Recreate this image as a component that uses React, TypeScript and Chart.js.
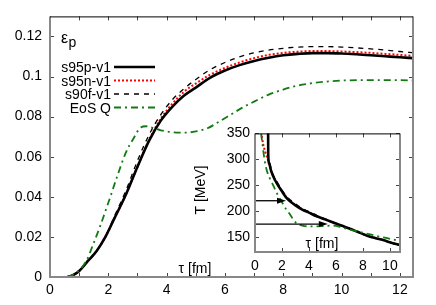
import React, { useEffect, useRef } from "react";
import { Chart, registerables } from "chart.js";
Chart.register(...registerables);

const FONT = '"Liberation Sans", Arial, sans-serif';

// ---------- main panel data ----------
const mainXLabels = [0, 2, 4, 6, 8, 10, 12];
const mainXTickMarks = [0, 1, 2, 3, 4, 5, 6, 7, 8, 9, 10, 11, 12];
const mainYLabels = [0, 0.02, 0.04, 0.06, 0.08, 0.1, 0.12];

const s95pTau = [0.6, 0.8, 1.0, 1.3, 1.6, 1.9, 2.2, 2.6, 3.0, 3.4, 3.8, 4.2, 4.6, 5.0, 5.5, 6.0, 6.5, 7.0, 7.5, 8.0, 8.5, 9.0, 9.5, 10.0, 10.5, 11.0, 11.5, 12.0, 12.45];
const s95pEps = [0, 0.001, 0.003, 0.008, 0.013, 0.020, 0.029, 0.041, 0.055, 0.068, 0.078, 0.085, 0.0905, 0.0945, 0.0995, 0.103, 0.1057, 0.1078, 0.1094, 0.1106, 0.1113, 0.1117, 0.1117, 0.1115, 0.1111, 0.1106, 0.1101, 0.1096, 0.1092];

const s95nTau = [0.6, 0.8, 1.0, 1.3, 1.6, 1.9, 2.2, 2.6, 3.0, 3.4, 3.8, 4.2, 4.6, 5.0, 5.5, 6.0, 6.5, 7.0, 7.5, 8.0, 8.5, 9.0, 9.5, 10.0, 10.5, 11.0, 11.5, 12.0, 12.45];
const s95nEps = [0, 0.001, 0.003, 0.008, 0.013, 0.020, 0.029, 0.041, 0.055, 0.0685, 0.079, 0.0865, 0.0925, 0.0965, 0.101, 0.1043, 0.107, 0.1092, 0.1108, 0.1118, 0.1124, 0.1127, 0.1127, 0.1125, 0.1122, 0.1118, 0.1113, 0.1108, 0.1103];

const s90fTau = [0.6, 0.8, 1.0, 1.3, 1.6, 1.9, 2.2, 2.6, 3.0, 3.4, 3.8, 4.2, 4.6, 5.0, 5.5, 6.0, 6.5, 7.0, 7.5, 8.0, 8.5, 9.0, 9.5, 10.0, 10.5, 11.0, 11.5, 12.0, 12.45];
const s90fEps = [0, 0.001, 0.003, 0.008, 0.013, 0.020, 0.030, 0.043, 0.058, 0.071, 0.081, 0.0885, 0.094, 0.0985, 0.1035, 0.107, 0.1098, 0.1118, 0.1132, 0.1141, 0.1147, 0.1149, 0.1149, 0.1147, 0.1143, 0.1138, 0.1132, 0.1125, 0.1119];

const eosQTau = [0.6, 0.9, 1.26, 1.5, 1.71, 2.0, 2.3, 2.6, 2.86, 3.1, 3.3, 3.5, 3.8, 4.2, 4.6, 5.0, 5.4, 5.8, 6.2, 6.6, 7.0, 7.5, 8.0, 8.5, 9.0, 9.5, 10.0, 11.0, 12.0, 12.45];
const eosQEps = [0, 0.002, 0.0085, 0.017, 0.025, 0.037, 0.050, 0.062, 0.069, 0.0745, 0.0752, 0.0745, 0.0732, 0.0722, 0.072, 0.0726, 0.0742, 0.0775, 0.081, 0.0845, 0.0875, 0.091, 0.0935, 0.0955, 0.0967, 0.0975, 0.098, 0.0982, 0.0982, 0.098];

// ---------- inset data ----------
const insetXLabels = [0, 2, 4, 6, 8, 10];
const insetYLabels = [150, 200, 250, 300, 350];

const inS95pTau = [0.97, 0.98, 1.05, 1.2, 1.5, 2.0, 2.35, 3.0, 3.5, 4.0, 4.57, 5.2, 5.8, 6.4, 7.04, 7.6, 8.27, 8.9, 9.5, 10.1, 10.75];
const inS95pT = [370, 310, 292, 277, 259, 238, 225, 211, 203, 197, 190, 184, 178, 172, 166, 160, 153, 148, 144, 139, 134.5];

const inS95nTau = [0.5, 0.6, 0.75, 0.9, 1.05, 1.2, 1.5, 2.0, 2.35, 3.0, 3.5, 4.0, 4.57, 5.2, 5.8, 6.4, 7.04, 7.6, 8.27, 8.9, 9.5, 10.1, 10.75];
const inS95nT = [345, 330, 315, 303, 292, 278, 260, 239, 226, 212, 204, 197.5, 190.5, 184, 178, 172, 166, 160, 153, 148, 144, 139, 134.5];

const inS90fTau = [0.97, 0.98, 1.05, 1.3, 1.6, 2.0, 2.35, 3.0, 3.5, 4.0, 4.57, 5.2, 5.8, 6.4, 7.04, 7.6, 8.27, 8.9, 9.5, 10.1, 10.75];
const inS90fT = [370, 312, 295, 273, 258, 241, 228, 214, 205, 199, 192, 185, 178.5, 172, 166, 160, 153, 148, 144, 139, 134.5];

const inEosQTau = [0.45, 0.55, 0.7, 0.86, 1.1, 1.36, 1.65, 1.98, 2.3, 2.6, 2.85, 3.1, 3.5, 4.07, 5.0, 5.8, 6.5, 7.2, 8.27, 9.0, 10.0, 10.75];
const inEosQT = [350, 330, 300, 280, 263, 249, 233, 218, 204, 193.5, 183, 176, 172, 170.5, 171, 172, 168, 163, 156.5, 152, 146.5, 142];

// arrows in inset: temperature and end tau
const arrowT = [220, 175];
const arrowEndTau = [2.3, 5.4];

const zip = (xs: number[], ys: number[]) => xs.map((x, i) => ({ x, y: ys[i] }));

const GREEN = "#127a12";

type Series = { label: string; color: string; width: number; dash: number[] };
const legendItems: Series[] = [
  { label: "s95p-v1", color: "#000000", width: 2.6, dash: [] },
  { label: "s95n-v1", color: "#ff0000", width: 2, dash: [2, 2] },
  { label: "s90f-v1", color: "#000000", width: 1.3, dash: [5, 5] },
  { label: "EoS Q", color: GREEN, width: 1.8, dash: [7, 4, 2, 4] },
];

function ds(s: Series, data: { x: number; y: number }[]) {
  return {
    label: s.label,
    data,
    borderColor: s.color,
    borderWidth: s.width,
    borderDash: s.dash,
    pointRadius: 0,
    fill: false,
    cubicInterpolationMode: "monotone" as const,
  };
}

function drawFrame(chart: any, xt: number[], yt: number[], tl: number) {
  const { ctx, chartArea: a, scales } = chart;
  ctx.save();
  ctx.strokeStyle = "#444";
  ctx.lineWidth = 1;
  ctx.beginPath();
  for (const v of xt) {
    const px = Math.round(scales.x.getPixelForValue(v)) + 0.5;
    ctx.moveTo(px, a.bottom);
    ctx.lineTo(px, a.bottom - tl);
    ctx.moveTo(px, a.top);
    ctx.lineTo(px, a.top + tl);
  }
  for (const v of yt) {
    const py = Math.round(scales.y.getPixelForValue(v)) + 0.5;
    ctx.moveTo(a.left, py);
    ctx.lineTo(a.left + tl, py);
    ctx.moveTo(a.right, py);
    ctx.lineTo(a.right - tl, py);
  }
  ctx.stroke();
  ctx.strokeStyle = "#888";
  ctx.lineWidth = 2;
  ctx.beginPath();
  ctx.moveTo(a.left, a.top);
  ctx.lineTo(a.left, a.bottom);
  ctx.lineTo(a.right, a.bottom);
  ctx.lineTo(a.right, a.top);
  ctx.stroke();
  ctx.strokeStyle = "#000";
  ctx.lineWidth = 1;
  ctx.beginPath();
  ctx.moveTo(a.left, a.top + 0.5);
  ctx.lineTo(a.right, a.top + 0.5);
  ctx.stroke();
  ctx.restore();
}

const mainPlugin = {
  id: "mainDecor",
  afterDraw(chart: any) {
    drawFrame(chart, mainXTickMarks, mainYLabels, 4);
    const ctx = chart.ctx;
    ctx.save();
    ctx.fillStyle = "#000";
    // epsilon_p label
    ctx.font = `16px ${FONT}`;
    ctx.textAlign = "left";
    ctx.textBaseline = "alphabetic";
    ctx.fillText("ε", 61, 43);
    ctx.font = `14px ${FONT}`;
    ctx.fillText("p", 68.5, 47);
    // legend
    legendItems.forEach((s, i) => {
      const y = 67 + i * 13.5;
      ctx.font = `14px ${FONT}`;
      ctx.textAlign = "right";
      ctx.fillStyle = "#000";
      ctx.fillText(s.label, 111, y + 5);
      ctx.strokeStyle = s.color;
      ctx.lineWidth = s.width;
      ctx.setLineDash(s.dash);
      ctx.beginPath();
      ctx.moveTo(114, y);
      ctx.lineTo(155, y);
      ctx.stroke();
      ctx.setLineDash([]);
    });
    // x title inside plot
    ctx.font = `14px ${FONT}`;
    ctx.textAlign = "center";
    ctx.fillStyle = "#000";
    ctx.fillText("τ [fm]", 195, 273);
    ctx.restore();
  },
};

const insetPlugin = {
  id: "insetDecor",
  beforeDraw(chart: any) {
    const { ctx, chartArea: a } = chart;
    ctx.save();
    ctx.fillStyle = "#fff";
    ctx.fillRect(a.left, a.top, a.right - a.left, a.bottom - a.top);
    ctx.restore();
  },
  afterDatasetsDraw(chart: any) {
    const { ctx, scales } = chart;
    ctx.save();
    ctx.strokeStyle = "#000";
    ctx.fillStyle = "#000";
    ctx.lineWidth = 1.3;
    arrowT.forEach((t, i) => {
      const y = scales.y.getPixelForValue(t);
      const x0 = scales.x.getPixelForValue(0);
      const x1 = scales.x.getPixelForValue(arrowEndTau[i]);
      ctx.beginPath();
      ctx.moveTo(x0, y);
      ctx.lineTo(x1 - 6, y);
      ctx.stroke();
      ctx.beginPath();
      ctx.moveTo(x1, y);
      ctx.lineTo(x1 - 9, y - 3);
      ctx.lineTo(x1 - 9, y + 3);
      ctx.closePath();
      ctx.fill();
    });
    ctx.restore();
  },
  afterDraw(chart: any) {
    drawFrame(chart, insetXLabels, insetYLabels, 4);
    const ctx = chart.ctx;
    ctx.save();
    ctx.fillStyle = "#000";
    ctx.font = `14px ${FONT}`;
    ctx.textAlign = "center";
    ctx.textBaseline = "alphabetic";
    ctx.fillText("τ [fm]", 322 - 193, 248 - 120);
    ctx.translate(201 - 193, 190 - 120);
    ctx.rotate(-Math.PI / 2);
    ctx.textBaseline = "middle";
    ctx.fillText("T [MeV]", 0, 0);
    ctx.restore();
  },
};

function tickFmt(v: any) {
  return String(+Number(v).toFixed(3));
}

export default function App() {
  const mainRef = useRef<HTMLCanvasElement>(null);
  const insetRef = useRef<HTMLCanvasElement>(null);

  useEffect(() => {
    const tickFont = { family: FONT, size: 14 };
    const main = new Chart(mainRef.current!, {
      type: "line",
      data: {
        datasets: [
          ds(legendItems[3], zip(eosQTau, eosQEps)),
          ds(legendItems[2], zip(s90fTau, s90fEps)),
          ds(legendItems[0], zip(s95pTau, s95pEps)),
          ds(legendItems[1], zip(s95nTau, s95nEps)),
        ],
      },
      options: {
        animation: false,
        responsive: false,
        devicePixelRatio: 1,
        layout: { padding: { top: 16, right: 23, left: 0, bottom: 0 } },
        plugins: { legend: { display: false }, tooltip: { enabled: false } },
        scales: {
          x: {
            type: "linear",
            min: 0,
            max: 12.45,
            grid: { display: false, drawTicks: false },
            border: { display: false },
            ticks: { font: tickFont, color: "#000", padding: 5, maxRotation: 0, callback: tickFmt },
            afterBuildTicks: (s: any) => { s.ticks = mainXLabels.map((v) => ({ value: v })); },
            afterFit: (s: any) => { s.height = 28; },
          },
          y: {
            type: "linear",
            min: 0,
            max: 0.13,
            grid: { display: false, drawTicks: false },
            border: { display: false },
            ticks: { font: tickFont, color: "#000", padding: 8, callback: tickFmt },
            afterBuildTicks: (s: any) => { s.ticks = mainYLabels.map((v) => ({ value: v })); },
            afterFit: (s: any) => { s.width = 50; },
          },
        },
      },
      plugins: [mainPlugin],
    } as any);

    const inset = new Chart(insetRef.current!, {
      type: "line",
      data: {
        datasets: [
          ds(legendItems[3], zip(inEosQTau, inEosQT)),
          ds(legendItems[2], zip(inS90fTau, inS90fT)),
          ds(legendItems[0], zip(inS95pTau, inS95pT)),
          ds(legendItems[1], zip(inS95nTau, inS95nT)),
        ],
      },
      options: {
        animation: false,
        responsive: false,
        devicePixelRatio: 1,
        layout: { padding: { top: 9, right: 8, left: 0, bottom: 0 } },
        plugins: { legend: { display: false }, tooltip: { enabled: false } },
        scales: {
          x: {
            type: "linear",
            min: 0,
            max: 10.75,
            grid: { display: false, drawTicks: false },
            border: { display: false },
            ticks: { font: tickFont, color: "#000", padding: 6, maxRotation: 0, callback: tickFmt },
            afterBuildTicks: (s: any) => { s.ticks = insetXLabels.map((v) => ({ value: v })); },
            afterFit: (s: any) => { s.height = 26; },
          },
          y: {
            type: "linear",
            min: 121,
            max: 350,
            grid: { display: false, drawTicks: false },
            border: { display: false },
            ticks: { font: tickFont, color: "#000", padding: 5, callback: tickFmt },
            afterBuildTicks: (s: any) => { s.ticks = insetYLabels.map((v) => ({ value: v })); },
            afterFit: (s: any) => { s.width = 62; },
          },
        },
      },
      plugins: [insetPlugin],
    } as any);

    return () => {
      main.destroy();
      inset.destroy();
    };
  }, []);

  return (
    <div style={{ position: "fixed", left: 0, top: 0, width: 436, height: 305, background: "#fff" }}>
      <canvas ref={mainRef} width={436} height={305} style={{ position: "absolute", left: 0, top: 0, width: 436, height: 305 }} />
      <canvas ref={insetRef} width={215} height={158} style={{ position: "absolute", left: 193, top: 120, width: 215, height: 158 }} />
    </div>
  );
}
